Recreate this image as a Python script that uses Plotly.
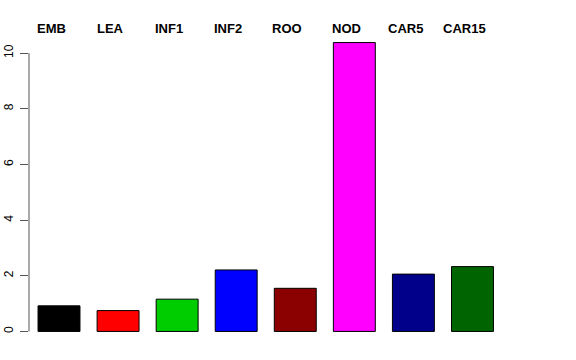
import plotly.graph_objects as go

categories = ["EMB", "LEA", "INF1", "INF2", "ROO", "NOD", "CAR5", "CAR15"]
values = [0.92, 0.75, 1.16, 2.21, 1.55, 10.38, 2.06, 2.33]
colors = ["#000000", "#FF0000", "#00CD00", "#0000FF", "#8B0000", "#FF00FF", "#00008B", "#006400"]
y_ticks = [0, 2, 4, 6, 8, 10]

positions = list(range(len(categories)))

fig = go.Figure()
fig.add_trace(go.Bar(
    x=positions, y=values, width=0.71,
    marker=dict(color=colors, line=dict(color="#000000", width=1)),
    showlegend=False, hoverinfo="skip",
))

for p, c in zip(positions, categories):
    fig.add_annotation(x=p, xref="x", y=1.0096, yref="paper", text="<b>" + c + "</b>",
                       showarrow=False, xanchor="center", yanchor="middle", xshift=-8,
                       font=dict(family="Liberation Sans, Arial, sans-serif", size=13, color="#000000"))

# y axis line only between first and last tick (R style)
fig.add_shape(type="line", xref="paper", yref="y", x0=0, x1=0, y0=y_ticks[0], y1=y_ticks[-1],
              line=dict(color="#555555", width=1))

fig.update_layout(
    width=576, height=360,
    margin=dict(l=29, r=74, t=31, b=17, autoexpand=False),
    paper_bgcolor="white", plot_bgcolor="white",
    font=dict(family="Liberation Sans, Arial, sans-serif", size=12, color="#000000"),
    xaxis=dict(range=[-0.508, 7.5], showticklabels=False, showgrid=False, zeroline=False,
               showline=False, ticks="", automargin=False),
    yaxis=dict(range=[-0.415, 10.795], tickvals=y_ticks, ticktext=[str(v) for v in y_ticks],
               showgrid=False, zeroline=False, showline=False, automargin=False,
               ticks="outside", ticklen=8, tickcolor="#555555", tickwidth=1,
               ticklabelstandoff=2,
               tickangle=-90, tickfont=dict(size=12)),
)

fig.write_html("out.html")
